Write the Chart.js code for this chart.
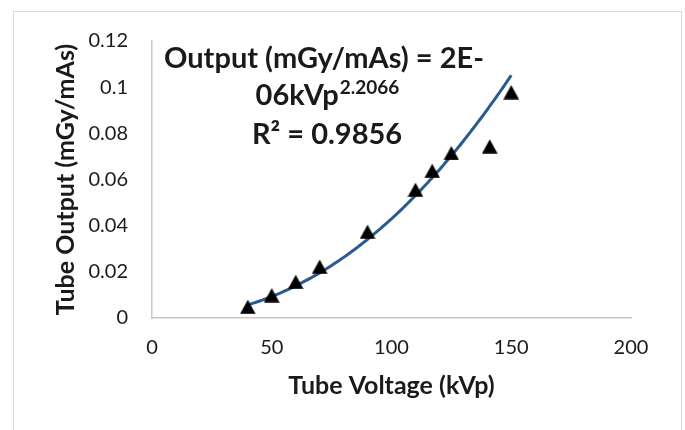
<!DOCTYPE html>
<html>
<head>
<meta charset="utf-8">
<script src="https://cdn.jsdelivr.net/npm/chart.js@4.4.1/dist/chart.umd.min.js"></script>
<style>
  html, body { margin: 0; padding: 0; background: #fff; overflow: hidden; }
  #wrap { position: relative; width: 685px; height: 430px; }
  #frame { position: absolute; left: 13px; top: 11px; width: 669px; height: 440px; border: 1px solid #d9d9d9; box-sizing: border-box; pointer-events: none; }
  canvas { position: absolute; left: 0; top: 0; }
</style>
</head>
<body>
<div id="wrap">
  <canvas id="c" width="685" height="430"></canvas>
  <div id="frame"></div>
</div>
<script>
// ---- Data ----
const kvp = [40, 50, 60, 70, 90, 110, 117, 125, 141, 150];
const output = [0.0049, 0.0099, 0.0157, 0.0223, 0.0374, 0.0556, 0.0638, 0.0715, 0.0744, 0.0979];
// Power trendline (Excel): y = a * x^b
const TREND_A = 1.66e-6;
const TREND_B = 2.2066;
const TREND_X_START = 40;
const TREND_X_END = 150;
const X_TICKS = [0, 50, 100, 150, 200];
const Y_TICKS = [0, 0.02, 0.04, 0.06, 0.08, 0.1, 0.12];
const EQUATION_LINE1 = "Output (mGy/mAs) = 2E-";
const EQUATION_LINE2 = "06kVp";
const EQUATION_EXP = "2.2066";
const R2_LABEL = "R² = 0.9856";

const scatterPts = kvp.map((x, i) => ({ x: x, y: output[i] }));
const trendPts = [];
for (let x = TREND_X_START; x <= TREND_X_END; x += 1) {
  trendPts.push({ x: x, y: TREND_A * Math.pow(x, TREND_B) });
}

// Excel-like triangle marker, centred on its bounding box
const tri = document.createElement('canvas');
tri.width = 16; tri.height = 15;
(function () {
  const t = tri.getContext('2d');
  t.fillStyle = '#000';
  t.beginPath();
  t.moveTo(8, 0.5);
  t.lineTo(15.8, 14.8);
  t.lineTo(0.2, 14.8);
  t.closePath();
  t.fill();
})();

const FONT = "Lato, 'Open Sans', 'Liberation Sans', sans-serif";
const TEXT = '#1a1a1a';

const annotationPlugin = {
  id: 'trendLabel',
  afterDraw(chart) {
    const ctx = chart.ctx;
    const ca = chart.chartArea;
    ctx.save();
    ctx.fillStyle = TEXT;
    ctx.textBaseline = 'alphabetic';
    const big = "bold 29px " + FONT;
    const small = "bold 19px " + FONT;
    const cx = ca.left + 175;
    ctx.font = big;
    ctx.textAlign = 'center';
    ctx.fillText(EQUATION_LINE1, cx - 3, ca.top + 27);
    ctx.textAlign = 'left';
    ctx.font = big;
    const w1 = ctx.measureText(EQUATION_LINE2).width;
    ctx.font = small;
    const w2 = ctx.measureText(EQUATION_EXP).width;
    const startX = cx - (w1 + w2) / 2;
    ctx.font = big;
    ctx.fillText(EQUATION_LINE2, startX, ca.top + 64);
    ctx.font = small;
    ctx.fillText(EQUATION_EXP, startX + w1 + 1, ca.top + 53);
    ctx.font = big;
    ctx.textAlign = 'center';
    ctx.fillText(R2_LABEL, cx, ca.top + 103);
    ctx.restore();
  }
};

new Chart(document.getElementById('c'), {
  type: 'scatter',
  data: {
    datasets: [
      {
        label: 'Trend',
        data: trendPts,
        showLine: true,
        borderColor: '#2a5b8e',
        borderWidth: 3,
        pointRadius: 0,
        fill: false,
        tension: 0,
        order: 1
      },
      {
        label: 'Output',
        data: scatterPts,
        pointStyle: tri,
        pointRadius: 8,
        backgroundColor: '#000',
        borderColor: '#000',
        borderWidth: 0,
        showLine: false,
        order: 0
      }
    ]
  },
  options: {
    responsive: false,
    animation: false,
    devicePixelRatio: 1,
    layout: { padding: { left: 0, right: 54, top: 41, bottom: 0 } },
    plugins: { legend: { display: false }, tooltip: { enabled: false } },
    scales: {
      x: {
        type: 'linear',
        min: 0, max: 200,
        afterBuildTicks: (s) => { s.ticks = X_TICKS.map(v => ({ value: v })); },
        afterFit: (s) => { s.height = 112; },
        grid: { display: true, drawOnChartArea: false, drawTicks: false, color: '#d0d0d0' },
        border: { display: true, color: '#c8c8c8', width: 1.5 },
        ticks: { padding: 18, color: TEXT, font: { family: FONT, size: 20 }, maxRotation: 0, callback: (v) => String(v) },
        title: { display: true, text: 'Tube Voltage (kVp)', color: TEXT, font: { family: FONT, size: 25, weight: 'bold' }, padding: { top: 0, bottom: 29 } }
      },
      y: {
        type: 'linear',
        min: 0, max: 0.12,
        afterBuildTicks: (s) => { s.ticks = Y_TICKS.map(v => ({ value: v })); },
        afterFit: (s) => { s.width = 152; },
        grid: { display: true, drawOnChartArea: false, drawTicks: false, color: '#d0d0d0' },
        border: { display: true, color: '#c8c8c8', width: 1.5 },
        ticks: { padding: 24, color: TEXT, font: { family: FONT, size: 20 }, callback: (v) => String(Number(v.toFixed(2))) },
        title: { display: true, text: 'Tube Output (mGy/mAs)', color: TEXT, font: { family: FONT, size: 25, weight: 'bold' }, padding: { top: 51, bottom: 0 } }
      }
    }
  },
  plugins: [annotationPlugin]
});
</script>
</body>
</html>
